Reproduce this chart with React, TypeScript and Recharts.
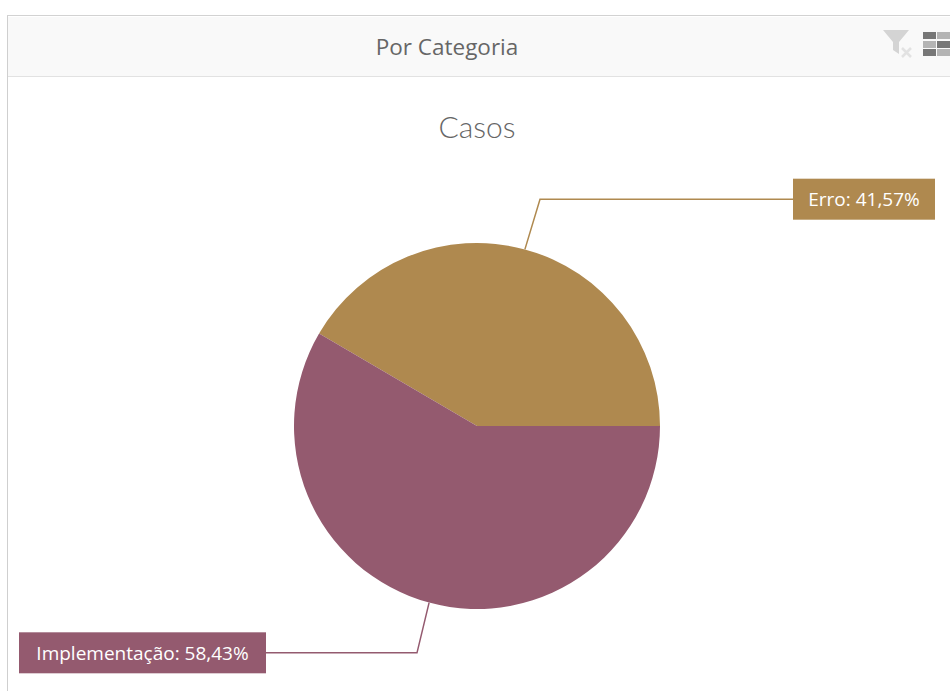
import React from "react";
import { Pie, PieChart } from "recharts";

const categories = ["Erro", "Implementação"];
const shares = [41.57, 58.43];
const colors = ["#AF894F", "#945A6F"];

const data = categories.map((name, i) => ({ name, value: shares[i], fill: colors[i] }));

const FONT = "'Open Sans', 'Noto Sans', sans-serif";
const RADIAN = Math.PI / 180;
const BOX_HEIGHT = 41;

// tag box edges for the two sides of the pie
const RIGHT_BOX = { x: 793, width: 142 };
const LEFT_BOX = { x: 19, width: 247 };

function renderTag(props: any) {
  const { cx, cy, midAngle, outerRadius, name, value, fill } = props;
  const cos = Math.cos(midAngle * RADIAN);
  const sin = Math.sin(midAngle * RADIAN);
  const sx = cx + outerRadius * cos;
  const sy = cy - outerRadius * sin;
  const ex = cx + (outerRadius + 52) * cos + 1.5;
  const ey = cy - (outerRadius + 52) * sin;
  const box = cos >= 0 ? RIGHT_BOX : LEFT_BOX;
  const hx = cos >= 0 ? box.x : box.x + box.width;
  return (
    <g>
      <polyline
        points={`${sx},${sy} ${ex},${ey} ${hx},${ey}`}
        fill="none"
        stroke={fill}
        strokeWidth={1.5}
      />
      <rect x={box.x} y={ey - BOX_HEIGHT / 2} width={box.width} height={BOX_HEIGHT} fill={fill} />
      <text
        x={box.x + box.width / 2}
        y={ey}
        textAnchor="middle"
        dominantBaseline="central"
        fill="#fff"
        fontSize={19}
        fontFamily={FONT}
      >
        {`${name}: ${value.toFixed(2).replace(".", ",")}%`}
      </text>
    </g>
  );
}

function HeaderIcons() {
  const cells = [
    [923, 32, "#777"],
    [937, 32, "#b4b4b4"],
    [923, 41, "#b4b4b4"],
    [937, 41, "#777"],
    [923, 49, "#777"],
    [937, 49, "#b4b4b4"],
  ] as const;
  return (
    <svg width={950} height={691} style={{ position: "absolute", left: 0, top: 0 }}>
      <path d="M883 30 H909 L899 42 V54 L893 50 V42 Z" fill="#d4d4d4" />
      <path d="M902 48 L911 57 M911 48 L902 57" stroke="#e2e2e2" strokeWidth={2.5} />
      {cells.map(([x, y, fill]) => (
        <rect key={`${x}-${y}`} x={x} y={y} width={13} height={7} fill={fill} />
      ))}
    </svg>
  );
}

export default function App() {
  return (
    <div
      style={{
        position: "absolute",
        left: 0,
        top: 0,
        width: 950,
        height: 691,
        overflow: "hidden",
        background: "#fff",
        fontFamily: FONT,
      }}
    >
      {/* panel frame, runs off the right and bottom edges */}
      <div
        style={{
          position: "absolute",
          left: 7,
          top: 15,
          width: 960,
          height: 700,
          borderLeft: "1.5px solid #cfcfcf",
          borderTop: "1.5px solid #d2d2d2",
        }}
      />
      <div
        style={{
          position: "absolute",
          left: 8,
          top: 17,
          width: 942,
          height: 59,
          background: "#f9f9f9",
          borderBottom: "1.5px solid #e2e2e2",
          lineHeight: "60px",
          textAlign: "center",
          fontSize: 22.5,
          color: "#666",
          boxSizing: "content-box",
        }}
      >
        <span style={{ position: "relative", left: -32 }}>Por Categoria</span>
      </div>
      <HeaderIcons />
      <div style={{ position: "absolute", left: 0, top: 0 }}>
        <PieChart width={950} height={691} margin={{ top: 0, right: 0, bottom: 0, left: 0 }}>
          <text
            x={477}
            y={126}
            textAnchor="middle"
            dominantBaseline="central"
            fontSize={30}
            fontWeight={300}
            fontFamily="Lato, 'Open Sans', sans-serif"
            fill="#666"
          >
            Casos
          </text>
          <Pie
            data={data}
            dataKey="value"
            nameKey="name"
            cx={477}
            cy={426}
            outerRadius={183}
            startAngle={0}
            endAngle={360}
            stroke="none"
            label={renderTag}
            labelLine={false}
            isAnimationActive={false}
          />
        </PieChart>
      </div>
    </div>
  );
}
